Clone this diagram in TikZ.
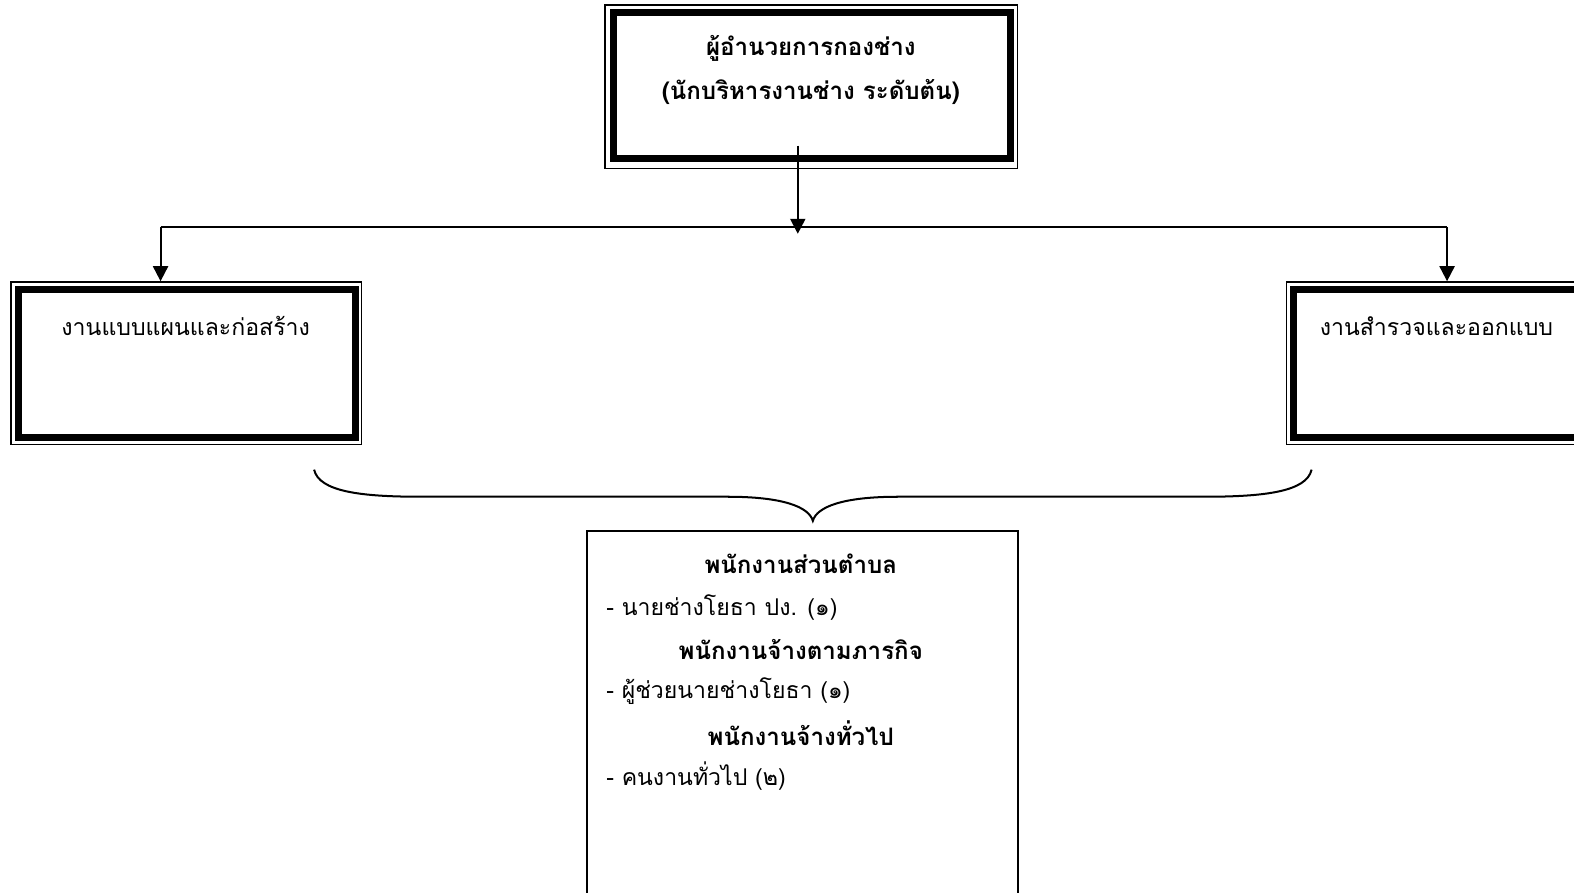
\documentclass[tikz,border=0pt]{standalone}
\usepackage{fontspec}
\newfontfamily\thai[Script=Thai]{Loma}
\usetikzlibrary{arrows.meta}
\begin{document}
\begin{tikzpicture}[x=1bp,y=-1bp,
  thickbox/.style={draw,line width=7bp,inner sep=0pt,fill=white},
  thinbox/.style={draw,line width=1.5bp,inner sep=0pt},
  conn/.style={line width=2bp,-{Triangle[width=15bp,length=15bp]}},
  plain/.style={line width=2bp},
  txt/.style={font=\thai\fontsize{23bp}{27bp}\selectfont,inner sep=0pt},
  btxt/.style={font=\thai\bfseries\fontsize{24bp}{28bp}\selectfont,inner sep=0pt},
  ltxt/.style={txt,anchor=west}]
\useasboundingbox (0,0) rectangle (1568.5,888.9);
\fill[white] (0,0) rectangle (1568.5,888.9);
% top box
\node[thinbox,minimum width=411bp,minimum height=163bp] (topout) at (808.5,86.5) {};
\node[thickbox,minimum width=396bp,minimum height=146bp] (top) at (809,85) {};
\node[btxt] (t1) at (808,48) {ผู้อำนวยการกองช่าง};
\node[btxt] (t2) at (808,92) {(นักบริหารงานช่าง ระดับต้น)};
% left box
\node[thinbox,minimum width=349bp,minimum height=162bp] (lout) at (185.5,362) {};
\node[thickbox,minimum width=336bp,minimum height=148bp] (lbox) at (186,362) {};
\node[txt] (lt) at (185,325) {งานแบบแผนและก่อสร้าง};
% right box
\node[thinbox,minimum width=349bp,minimum height=162bp] (rout) at (1456.5,362) {};
\node[thickbox,minimum width=336bp,minimum height=148bp] (rbox) at (1457,362) {};
\node[txt,anchor=west] (rt) at (1315,325) {งานสำรวจและออกแบบ};
% connectors
\coordinate (a0) at (795,145);
\coordinate (a1) at (795,233);
\coordinate (hl) at (160,226);
\coordinate (hr) at (1442,226);
\draw[conn] (a0) -- (a1);
\draw[plain] (hl) -- (hr);
\draw[conn] (hl) -- (hl |- lout.north);
\draw[conn] (hr) -- (hr |- rout.north);
% brace
\coordinate (bl) at (313,468);
\coordinate (br) at (1307,468);
\coordinate (btip) at (810,519);
\draw[line width=2bp] (bl) .. controls (318,490) and (360,495) .. (420,495) -- (725,495)
  .. controls (780,495) and (806,505) .. (btip)
  .. controls (814,505) and (840,495) .. (895,495) -- (1200,495)
  .. controls (1260,495) and (1302,490) .. (br);
% bottom box
\node[draw,line width=2bp,minimum width=429bp,minimum height=440bp,anchor=north west,inner sep=0pt] (bbox) at (584,528) {};
\node[btxt] (b1) at (798,562) {พนักงานส่วนตำบล};
\node[ltxt] (b2) at (604,605) {- นายช่างโยธา ปง. (๑)};
\node[btxt] (b3) at (798,647) {พนักงานจ้างตามภารกิจ};
\node[ltxt] (b4) at (604,689) {- ผู้ช่วยนายช่างโยธา (๑)};
\node[btxt] (b5) at (798,731) {พนักงานจ้างทั่วไป};
\node[ltxt] (b6) at (604,773) {- คนงานทั่วไป (๒)};
\end{tikzpicture}
\end{document}
